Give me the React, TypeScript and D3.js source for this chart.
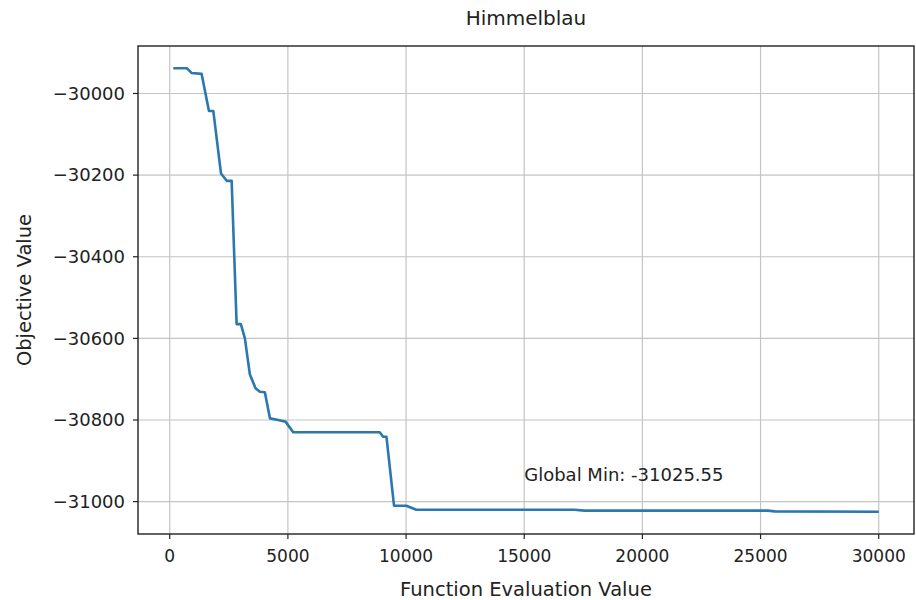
import React from 'react';
import * as d3 from 'd3';

// function evaluations vs best objective value
const evals = [150, 720, 930, 1350, 1660, 1845, 2170, 2410, 2620, 2830, 3010, 3180, 3390, 3630, 3815, 4025, 4240, 4590, 4900, 5225, 8885, 9030, 9170, 9490, 10010, 10435, 17120, 17545, 25300, 25600, 30000];
const values = [-29938, -29938, -29950, -29952, -30043, -30043, -30196, -30214, -30214, -30565, -30565, -30600, -30688, -30722, -30731, -30732, -30796, -30800, -30804, -30830, -30830, -30841, -30841, -31010, -31010, -31020, -31020, -31022, -31022, -31024, -31025];

const xTicks = [0, 5000, 10000, 15000, 20000, 25000, 30000];
const yTicks = [-30000, -30200, -30400, -30600, -30800, -31000];

const title = 'Himmelblau';
const xLabel = 'Function Evaluation Value';
const yLabel = 'Objective Value';
const note = 'Global Min: -31025.55';
const noteAt = [15000, -30950];

const W = 916;
const H = 600;
const margin = { top: 46, right: 2, bottom: 66, left: 138 };
const font = 'DejaVu Sans, sans-serif';

const pad = (lo: number, hi: number) => {
  const m = (hi - lo) * 0.05;
  return [lo - m, hi + m];
};

const App = () => {
  const iw = W - margin.left - margin.right;
  const ih = H - margin.top - margin.bottom;

  const [x0, x1] = pad(d3.min(evals)!, d3.max(evals)!);
  const [y0, y1] = pad(d3.min(values)!, d3.max(values)!);

  const x = d3.scaleLinear().domain([x0, x1]).range([0, iw]);
  const y = d3.scaleLinear().domain([y0, y1]).range([ih, 0]);

  const pts = evals.map((e, i) => [e, values[i]] as [number, number]);
  const line = d3.line<[number, number]>()
    .x(d => x(d[0]))
    .y(d => y(d[1]));

  const fmtY = (v: number) => (v < 0 ? '\u2212' + Math.abs(v) : String(v));

  return (
    <div style={{ position: 'absolute', left: 0, top: 0 }}>
      <svg width={W} height={H} style={{ display: 'block', background: '#fff' }}>
        <text x={margin.left + iw / 2} y={25} textAnchor="middle" fontFamily={font} fontSize={20} fill="#222">
          {title}
        </text>
        <g transform={`translate(${margin.left},${margin.top})`}>
          {xTicks.map(t => (
            <line key={'gx' + t} x1={x(t)} x2={x(t)} y1={0} y2={ih} stroke="#c4c4c4" strokeWidth={1.2} />
          ))}
          {yTicks.map(t => (
            <line key={'gy' + t} x1={0} x2={iw} y1={y(t)} y2={y(t)} stroke="#c4c4c4" strokeWidth={1.2} />
          ))}
          <path d={line(pts)!} fill="none" stroke="#2a78ad" strokeWidth={2.6} strokeLinejoin="round" />
          <text x={x(noteAt[0])} y={y(noteAt[1])} fontFamily={font} fontSize={18} fill="#222">
            {note}
          </text>
          <rect x={0} y={0} width={iw} height={ih} fill="none" stroke="#222" strokeWidth={1.4} />
          {xTicks.map(t => (
            <g key={'tx' + t} transform={`translate(${x(t)},${ih})`}>
              <line y2={5} stroke="#222" strokeWidth={1.2} />
              <text y={28} textAnchor="middle" fontFamily={font} fontSize={17} fill="#222">
                {t}
              </text>
            </g>
          ))}
          {yTicks.map(t => (
            <g key={'ty' + t} transform={`translate(0,${y(t)})`}>
              <line x2={-5} stroke="#222" strokeWidth={1.2} />
              <text x={-13} dy="0.35em" textAnchor="end" fontFamily={font} fontSize={18} fill="#222">
                {fmtY(t)}
              </text>
            </g>
          ))}
          <text x={iw / 2} y={ih + 62} textAnchor="middle" fontFamily={font} fontSize={19.5} fill="#222">
            {xLabel}
          </text>
          <text transform={`translate(${-107},${ih / 2}) rotate(-90)`} textAnchor="middle" fontFamily={font} fontSize={19.5} fill="#222">
            {yLabel}
          </text>
        </g>
      </svg>
    </div>
  );
};

export default App;
